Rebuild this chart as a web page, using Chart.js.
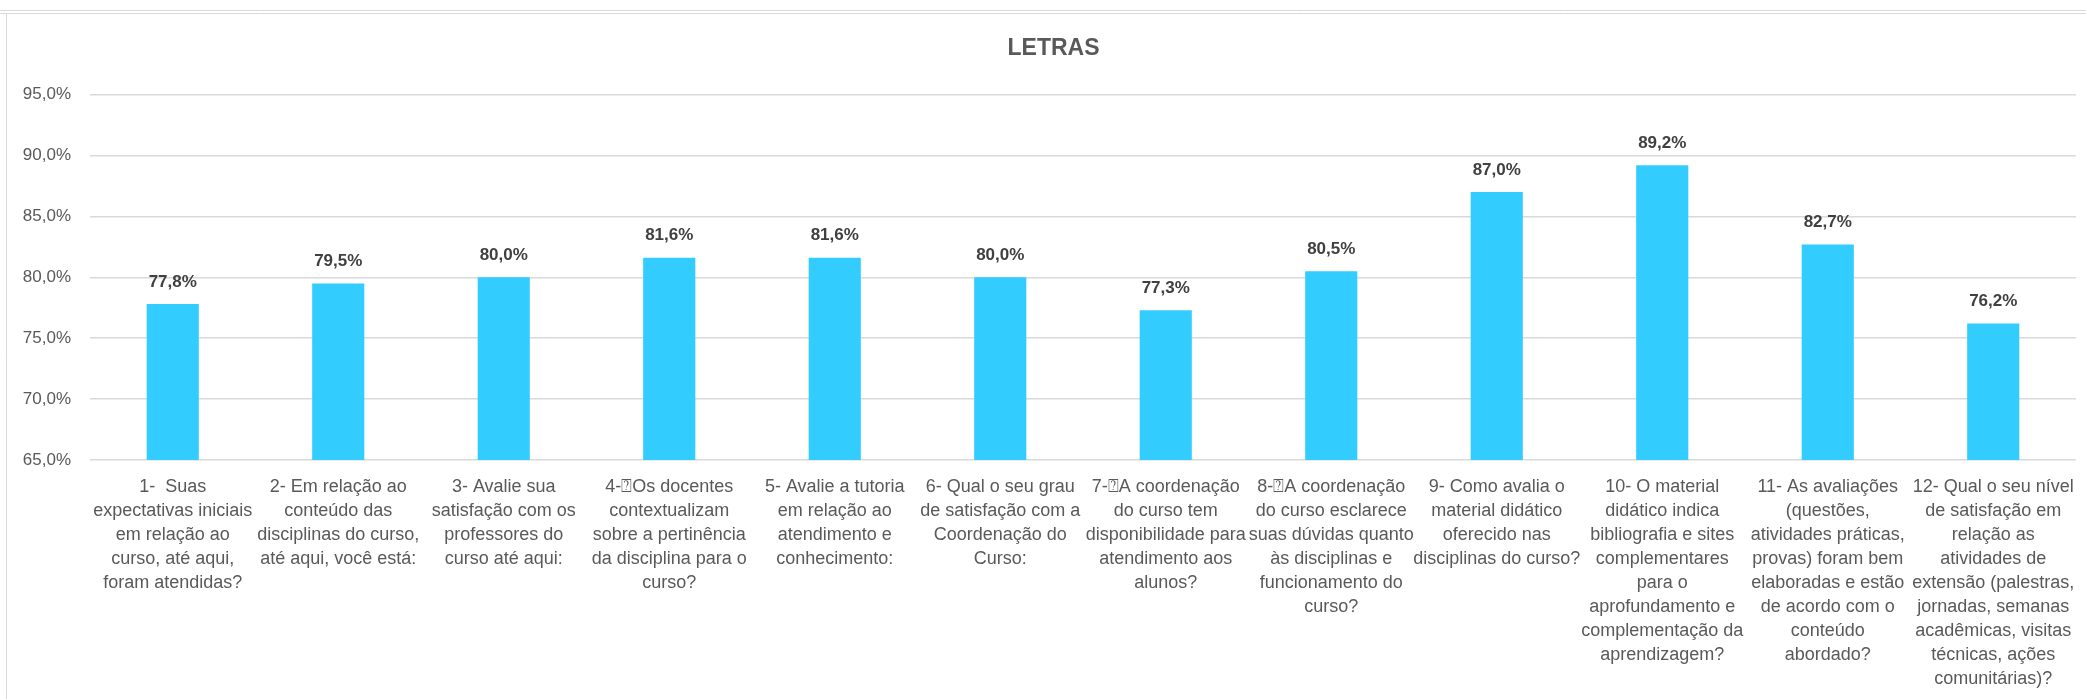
<!DOCTYPE html>
<html>
<head>
<meta charset="utf-8">
<title>LETRAS</title>
<script src="https://cdn.jsdelivr.net/npm/chart.js@4.4.1/dist/chart.umd.min.js"></script>
<style>
  html, body { margin: 0; padding: 0; background: #ffffff; }
  #wrap { position: relative; width: 2086px; height: 699px; }
</style>
</head>
<body>
<div id="wrap"><canvas id="myChart"></canvas></div>
<script>
// Chart data
var chartTitle = "LETRAS";
var categories = [
  ["1-  Suas", "expectativas iniciais", "em relação ao", "curso, até aqui,", "foram atendidas?"],
  ["2- Em relação ao", "conteúdo das", "disciplinas do curso,", "até aqui, você está:"],
  ["3- Avalie sua", "satisfação com os", "professores do", "curso até aqui:"],
  ["4-⍰Os docentes", "contextualizam", "sobre a pertinência", "da disciplina para o", "curso?"],
  ["5- Avalie a tutoria", "em relação ao", "atendimento e", "conhecimento:"],
  ["6- Qual o seu grau", "de satisfação com a", "Coordenação do", "Curso:"],
  ["7-⍰A coordenação", "do curso tem", "disponibilidade para", "atendimento aos", "alunos?"],
  ["8-⍰A coordenação", "do curso esclarece", "suas dúvidas quanto", "às disciplinas e", "funcionamento do", "curso?"],
  ["9- Como avalia o", "material didático", "oferecido nas", "disciplinas do curso?"],
  ["10- O material", "didático indica", "bibliografia e sites", "complementares", "para o", "aprofundamento e", "complementação da", "aprendizagem?"],
  ["11- As avaliações", "(questões,", "atividades práticas,", "provas) foram bem", "elaboradas e estão", "de acordo com o", "conteúdo", "abordado?"],
  ["12- Qual o seu nível", "de satisfação em", "relação as", "atividades de", "extensão (palestras,", "jornadas, semanas", "acadêmicas, visitas", "técnicas, ações", "comunitárias)?"]
];
var satisfaction = [77.8, 79.5, 80.0, 81.6, 81.6, 80.0, 77.3, 80.5, 87.0, 89.2, 82.7, 76.2];
var yMin = 65;
var yMax = 95;
var yStep = 5;

var FONT = '"Liberation Sans", Arial, "DejaVu Sans", sans-serif';

function pct(v) {
  return v.toFixed(1).replace(".", ",") + "%";
}

// Draws the value above each bar
var valueLabels = {
  id: "valueLabels",
  afterDatasetsDraw: function (chart) {
    var ctx = chart.ctx;
    var meta = chart.getDatasetMeta(0);
    ctx.save();
    ctx.font = "bold 17px " + FONT;
    ctx.fillStyle = "#404040";
    ctx.textAlign = "center";
    ctx.textBaseline = "middle";
    meta.data.forEach(function (bar, i) {
      ctx.fillText(pct(chart.data.datasets[0].data[i]), bar.x, bar.y - 22);
    });
    ctx.restore();
  }
};

// Spreadsheet frame around the chart, and title nudged like the original
var frame = {
  id: "frame",
  afterLayout: function (chart) {
    if (chart.titleBlock) chart.titleBlock.left += 21;
  },
  beforeDraw: function (chart) {
    var ctx = chart.ctx;
    ctx.save();
    ctx.fillStyle = "#ffffff";
    ctx.fillRect(0, 0, chart.width, chart.height);
    ctx.strokeStyle = "#d9d9d9";
    ctx.lineWidth = 1;
    ctx.beginPath();
    ctx.moveTo(0, 10.5); ctx.lineTo(chart.width, 10.5);
    ctx.moveTo(0, 13.5); ctx.lineTo(chart.width, 13.5);
    ctx.moveTo(6.5, 13.5); ctx.lineTo(6.5, chart.height);
    ctx.stroke();
    ctx.restore();
  }
};

var myChart = new Chart(document.getElementById("myChart"), {
  type: "bar",
  data: {
    labels: categories,
    datasets: [{
      label: chartTitle,
      data: satisfaction,
      backgroundColor: "#33ccff",
      borderWidth: 0,
      categoryPercentage: 1,
      barPercentage: 0.315
    }]
  },
  options: {
    responsive: true,
    maintainAspectRatio: false,
    animation: false,
    layout: { padding: { left: 10, right: 10, top: 0, bottom: 0 } },
    plugins: {
      legend: { display: false },
      tooltip: { enabled: false },
      title: {
        display: true,
        text: chartTitle,
        color: "#595959",
        font: { family: FONT, size: 23, weight: "bold" },
        padding: { top: 35, bottom: 32 }
      }
    },
    scales: {
      x: {
        grid: { display: false },
        border: { display: false },
        ticks: {
          color: "#595959",
          font: { family: FONT, size: 18, lineHeight: "24px" },
          autoSkip: false,
          maxRotation: 0,
          minRotation: 0,
          padding: 7
        },
        afterFit: function (scale) { scale.height = 239; }
      },
      y: {
        min: yMin,
        max: yMax,
        grid: { color: "#d9d9d9", lineWidth: 1.5, drawTicks: false },
        border: { display: false },
        ticks: {
          stepSize: yStep,
          color: "#595959",
          font: { family: FONT, size: 17 },
          padding: 19,
          callback: function (v) { return pct(v); }
        },
        afterFit: function (scale) { scale.width = 80; }
      }
    }
  },
  plugins: [frame, valueLabels]
});
</script>
</body>
</html>
